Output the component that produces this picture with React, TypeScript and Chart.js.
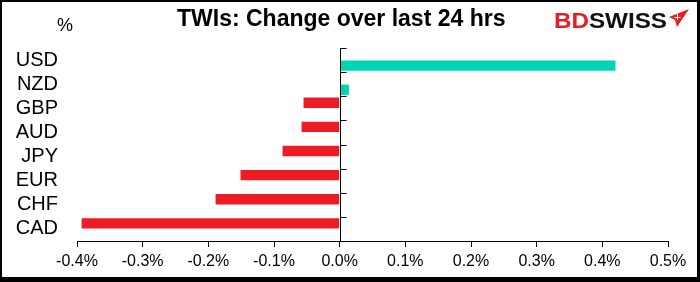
import React, { useEffect, useRef } from "react";
import { Chart, registerables } from "chart.js";

Chart.register(...registerables);

const categories = ["USD", "NZD", "GBP", "AUD", "JPY", "EUR", "CHF", "CAD"];
const changes = [0.42, 0.014, -0.055, -0.058, -0.087, -0.151, -0.189, -0.393];
const xMin = -0.4;
const xMax = 0.5;
const xStep = 0.1;
const titleText = "TWIs: Change over last 24 hrs";
const unitText = "%";
const brandRed = "BD";
const brandBlack = "SWISS";

const UP = "#00D4B4";
const DOWN = "#ED1C24";
const FONT = "'Liberation Sans', Arial, Helvetica, sans-serif";

const decorPlugin = {
  id: "decor",
  afterDatasetsDraw(chart: any) {
    const { ctx, chartArea, scales } = chart;
    const x = scales.x;
    const zx = Math.round(x.getPixelForValue(0)) + 0.5;
    ctx.save();
    ctx.strokeStyle = "#000";
    ctx.lineWidth = 1;
    ctx.beginPath();
    ctx.moveTo(zx, chartArea.top);
    ctx.lineTo(zx, chartArea.bottom);
    const n = categories.length;
    const h = (chartArea.bottom - chartArea.top) / n;
    for (let i = 0; i < n; i++) {
      const yy = Math.round(chartArea.top + i * h) + 0.5;
      ctx.moveTo(zx - 0.5, yy);
      ctx.lineTo(zx + 6, yy);
    }
    ctx.stroke();
    ctx.restore();
  },
  afterDraw(chart: any) {
    const { ctx, width, height } = chart;
    ctx.save();
    // title
    ctx.fillStyle = "#000";
    ctx.font = `bold 23px ${FONT}`;
    ctx.textAlign = "left";
    ctx.textBaseline = "alphabetic";
    ctx.fillText(titleText, 177, 26);
    // unit
    ctx.font = `18px ${FONT}`;
    ctx.textAlign = "center";
    ctx.fillText(unitText, 65, 31);
    // brand
    ctx.font = `bold 22px ${FONT}`;
    ctx.textAlign = "left";
    const wR = ctx.measureText(brandRed).width;
    const wB = ctx.measureText(brandBlack).width;
    const target = 113;
    const sx = target / (wR + wB);
    ctx.save();
    ctx.translate(554, 28);
    ctx.scale(sx, 1);
    ctx.fillStyle = "#E41E26";
    ctx.fillText(brandRed, 0, 0);
    ctx.fillStyle = "#111";
    ctx.fillText(brandBlack, wR, 0);
    ctx.restore();
    // brand arrow
    ctx.fillStyle = "#E41E26";
    ctx.beginPath();
    ctx.moveTo(689, 9);
    ctx.lineTo(677, 27);
    ctx.lineTo(675, 20);
    ctx.lineTo(669, 17);
    ctx.closePath();
    ctx.fill();
    ctx.strokeStyle = "#fff";
    ctx.lineWidth = 1;
    ctx.beginPath();
    ctx.moveTo(677.5, 14);
    ctx.lineTo(677.5, 20);
    ctx.moveTo(674.5, 17.5);
    ctx.lineTo(680.5, 17.5);
    ctx.stroke();
    // border
    ctx.fillStyle = "#000";
    ctx.fillRect(0, 0, width, 2);
    ctx.fillRect(0, 0, 2, height);
    ctx.fillRect(width - 3, 0, 3, height);
    ctx.fillRect(0, height - 5, width, 5);
    ctx.restore();
  },
};

export default function App() {
  const ref = useRef<HTMLCanvasElement | null>(null);

  useEffect(() => {
    document.body.style.margin = "0";
    if (!ref.current) return;
    Chart.defaults.font.family = FONT;
    const chart = new Chart(ref.current, {
      type: "bar",
      data: {
        labels: categories,
        datasets: [
          {
            // falls (upper slot in each category)
            data: changes.map((v) => (v < 0 ? v : null)),
            backgroundColor: DOWN,
          },
          {
            // rises (lower slot in each category)
            data: changes.map((v) => (v >= 0 ? v : null)),
            backgroundColor: UP,
          },
        ],
      },
      options: {
        indexAxis: "y",
        responsive: false,
        animation: false,
        datasets: {
          bar: { categoryPercentage: 0.92, barPercentage: 0.93 },
        },
        layout: { padding: { top: 48, right: 32, left: 0, bottom: 0 } },
        plugins: {
          legend: { display: false },
          tooltip: { enabled: false },
          title: { display: false },
        },
        scales: {
          x: {
            type: "linear",
            position: "bottom",
            min: xMin,
            max: xMax,
            ticks: {
              stepSize: xStep,
              color: "#000",
              font: { size: 16 },
              padding: 5,
              maxRotation: 0,
              autoSkip: false,
              callback: (v: any) => Number(v).toFixed(1) + "%",
            },
            grid: {
              display: true,
              drawOnChartArea: false,
              drawTicks: true,
              tickLength: 6,
              color: "#000",
            },
            border: { display: true, color: "#000", width: 1 },
            afterFit: (s: any) => {
              s.height = 41;
            },
          },
          y: {
            type: "category",
            position: "left",
            grid: { display: false, drawTicks: false },
            border: { display: false },
            ticks: {
              color: "#000",
              font: { size: 20 },
              padding: 19,
              autoSkip: false,
            },
            afterFit: (s: any) => {
              s.width = 77;
            },
          },
        },
      } as any,
      plugins: [decorPlugin],
    });
    return () => chart.destroy();
  }, []);

  return (
    <div style={{ width: 700, height: 282, background: "#fff" }}>
      <canvas ref={ref} width={700} height={282} style={{ display: "block" }} />
    </div>
  );
}
